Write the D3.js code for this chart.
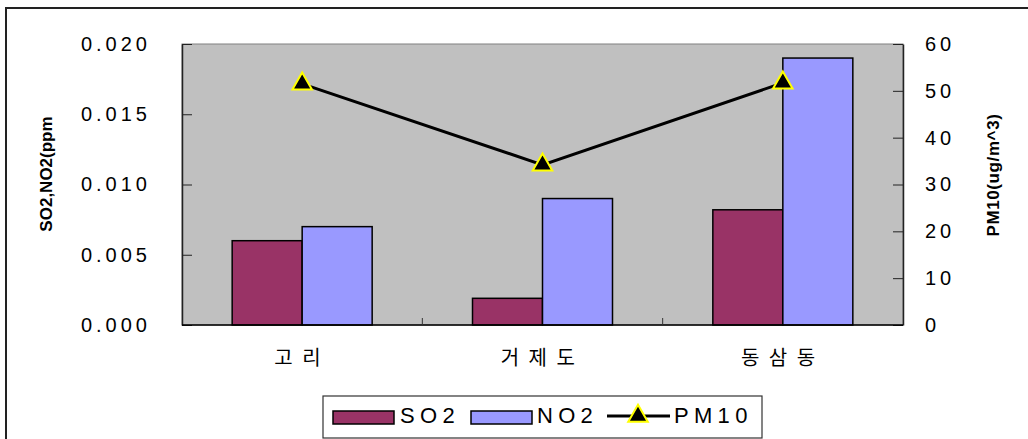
<!DOCTYPE html>
<html>
<head>
<meta charset="utf-8">
<script src="https://cdn.jsdelivr.net/npm/d3@7"></script>
<style>
  html, body { margin: 0; padding: 0; background: #fff; }
  svg { display: block; }
  .num { font-family: "Liberation Sans", Arial, sans-serif; fill: #000; }
  .kor { font-family: "Noto Sans CJK KR", sans-serif; fill: #000; }
</style>
</head>
<body>
<svg id="chart" width="1028" height="439"></svg>
<script>
// Sites and measured concentrations
const sites = ["고리", "거제도", "동삼동"];
const so2 = [0.0060, 0.0019, 0.0082];   // ppm
const no2 = [0.0070, 0.0090, 0.0190];   // ppm
const pm10 = [51.5, 34.2, 51.7];        // ug/m^3
const leftTicks = [0, 0.005, 0.010, 0.015, 0.020];
const rightTicks = [0, 10, 20, 30, 40, 50, 60];
const seriesNames = ["SO2", "NO2", "PM10"];
const colors = { SO2: "#993366", NO2: "#9999FF" };

const svg = d3.select("#chart");
const plot = { left: 182, right: 903, top: 44, bottom: 325 };

// outer chart frame (runs off the right and bottom edges)
svg.append("rect")
  .attr("x", 6).attr("y", 8).attr("width", 1100).attr("height", 500)
  .attr("fill", "#fff").attr("stroke", "#222").attr("stroke-width", 2);

// plot background
svg.append("rect")
  .attr("x", plot.left).attr("y", plot.top)
  .attr("width", plot.right - plot.left).attr("height", plot.bottom - plot.top)
  .attr("fill", "#C0C0C0").attr("stroke", "#808080").attr("stroke-width", 1);

const x0 = d3.scaleBand().domain(sites).range([plot.left, plot.right])
  .paddingInner(0.4175).paddingOuter(0.4175 / 2);
const x1 = d3.scaleBand().domain(["SO2", "NO2"]).range([0, x0.bandwidth()]);
const yL = d3.scaleLinear().domain([0, 0.02]).range([plot.bottom, plot.top]);
const yR = d3.scaleLinear().domain([0, 60]).range([plot.bottom, plot.top]);

// bars
const rows = sites.map((s, i) => ({ site: s, SO2: so2[i], NO2: no2[i] }));
const groups = svg.append("g").selectAll("g").data(rows).join("g")
  .attr("transform", d => `translate(${x0(d.site)},0)`);
groups.selectAll("rect")
  .data(d => ["SO2", "NO2"].map(k => ({ key: k, value: d[k] })))
  .join("rect")
  .attr("x", d => x1(d.key))
  .attr("y", d => yL(d.value))
  .attr("width", x1.bandwidth())
  .attr("height", d => yL(0) - yL(d.value))
  .attr("fill", d => colors[d.key])
  .attr("stroke", "#000").attr("stroke-width", 1.5);

// left axis
const axL = svg.append("g").attr("transform", `translate(${plot.left},0)`)
  .call(d3.axisLeft(yL).tickValues(leftTicks).tickFormat(d3.format(".3f"))
    .tickSizeInner(-10).tickSizeOuter(0).tickPadding(31));
axL.select(".domain").attr("stroke", "#222").attr("stroke-width", 1.5);
axL.selectAll(".tick line").attr("stroke", "#222");
axL.selectAll("text").attr("class", "num").attr("font-size", 20)
  .style("letter-spacing", "4px").attr("font-family", null);

// right axis
const axR = svg.append("g").attr("transform", `translate(${plot.right},0)`)
  .call(d3.axisRight(yR).tickValues(rightTicks)
    .tickSizeInner(-10).tickSizeOuter(0).tickPadding(22));
axR.select(".domain").attr("stroke", "#222").attr("stroke-width", 1.5);
axR.selectAll(".tick line").attr("stroke", "#222");
axR.selectAll("text").attr("class", "num").attr("font-size", 20)
  .style("letter-spacing", "4px").attr("font-family", null);

// bottom axis: ticks between categories, pointing up
const bottom = svg.append("g");
bottom.append("line")
  .attr("x1", plot.left).attr("x2", plot.right)
  .attr("y1", plot.bottom).attr("y2", plot.bottom)
  .attr("stroke", "#000").attr("stroke-width", 1.5);
const step = x0.step();
bottom.selectAll("line.sep").data(sites.slice(1)).join("line")
  .attr("class", "sep")
  .attr("x1", d => x0(d) - step * x0.paddingInner() / 2)
  .attr("x2", d => x0(d) - step * x0.paddingInner() / 2)
  .attr("y1", plot.bottom).attr("y2", plot.bottom - 7)
  .attr("stroke", "#333");
bottom.selectAll("text").data(sites).join("text")
  .attr("class", "kor")
  .attr("x", d => x0(d) + x0.bandwidth() / 2)
  .attr("y", 365)
  .attr("text-anchor", "middle")
  .attr("font-size", 20)
  .style("letter-spacing", "9.5px")
  .text(d => d);

// PM10 line
const pts = sites.map((s, i) => [x0(s) + x0.bandwidth() / 2, yR(pm10[i])]);
svg.append("path")
  .attr("d", d3.line()(pts))
  .attr("fill", "none").attr("stroke", "#000").attr("stroke-width", 3);
const tri = d3.symbol(d3.symbolTriangle, 165);
svg.selectAll("path.mk").data(pts).join("path")
  .attr("class", "mk")
  .attr("transform", d => `translate(${d[0]},${d[1]})`)
  .attr("d", tri)
  .attr("fill", "#000").attr("stroke", "#FFFF00").attr("stroke-width", 2);

// axis titles
svg.append("text").attr("class", "num")
  .attr("transform", "translate(52,174) rotate(-90)")
  .attr("text-anchor", "middle").attr("font-size", 17).attr("font-weight", "bold")
  .text("SO2,NO2(ppm");
svg.append("text").attr("class", "num")
  .attr("transform", "translate(999,175) rotate(-90)")
  .attr("text-anchor", "middle").attr("font-size", 17).attr("font-weight", "bold")
  .style("letter-spacing", "0.6px")
  .text("PM10(ug/m^3)");

// legend
const lg = svg.append("g").attr("transform", "translate(323,396)");
lg.append("rect").attr("width", 439).attr("height", 42)
  .attr("fill", "#fff").attr("stroke", "#333").attr("stroke-width", 1.2);
const swatchX = { SO2: 10, NO2: 148 };
["SO2", "NO2"].forEach(k => {
  lg.append("rect").attr("x", swatchX[k]).attr("y", 15).attr("width", 61).attr("height", 13)
    .attr("fill", colors[k]).attr("stroke", "#000").attr("stroke-width", 1.5);
});
lg.append("line").attr("x1", 284).attr("x2", 347).attr("y1", 20).attr("y2", 20)
  .attr("stroke", "#000").attr("stroke-width", 3);
lg.append("path").attr("transform", "translate(315,20)").attr("d", tri)
  .attr("fill", "#000").attr("stroke", "#FFFF00").attr("stroke-width", 2);
const textX = [77, 214, 351];
lg.selectAll("text").data(seriesNames).join("text")
  .attr("class", "num")
  .attr("x", (d, i) => textX[i]).attr("y", 27)
  .attr("font-size", 22)
  .style("letter-spacing", "5.3px")
  .text(d => d);
</script>
</body>
</html>
